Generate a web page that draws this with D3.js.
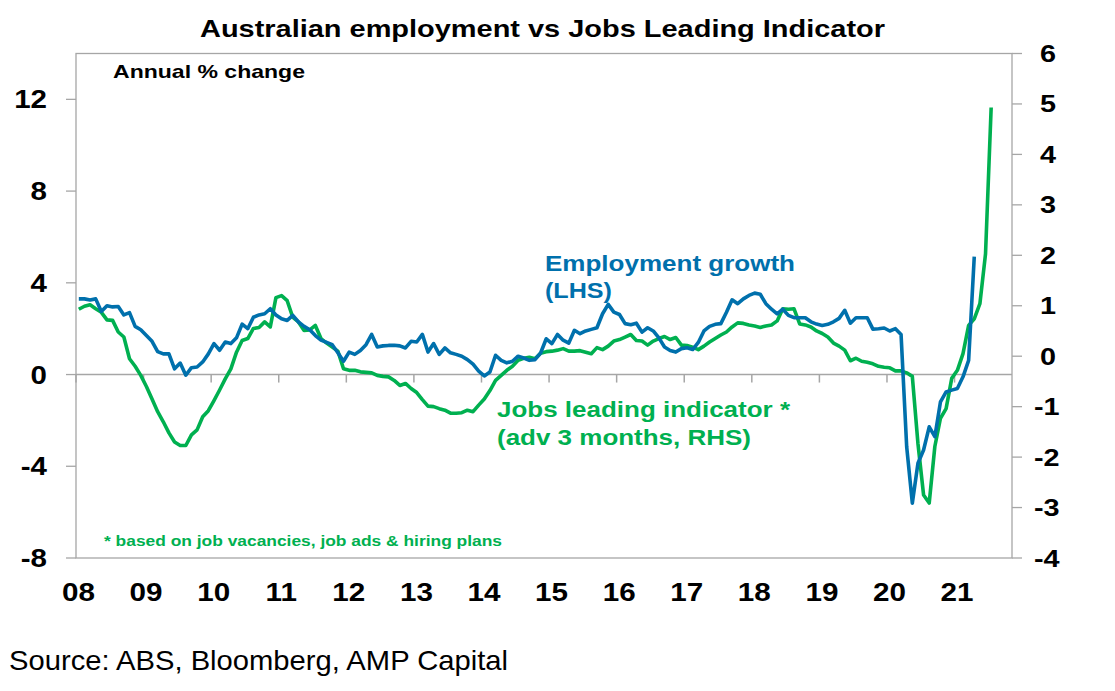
<!DOCTYPE html>
<html>
<head>
<meta charset="utf-8">
<script src="https://cdn.jsdelivr.net/npm/d3@7"></script>
<style>
  body { margin: 0; background: #fff; }
  text { font-family: "Liberation Sans", Arial, sans-serif; }
</style>
</head>
<body>
<svg id="chart" width="1115" height="691"></svg>
<script>
// monthly data, first point Jan 2008
const employment = [
  3.3, 3.3, 3.25, 3.3, 2.75, 3.0, 2.95, 2.97, 2.6, 2.7, 2.1, 1.95,
  1.7, 1.45, 1.0, 0.9, 0.9, 0.25, 0.5, -0.03, 0.3, 0.33, 0.55, 0.9,
  1.35, 1.06, 1.42, 1.35, 1.6, 2.2, 2.0, 2.5, 2.6, 2.65, 2.87, 2.6,
  2.43, 2.36, 2.58, 2.29, 2.1, 1.95, 1.7, 1.5, 1.4, 1.3, 0.95, 0.58,
  0.98, 0.88, 1.05, 1.3, 1.75, 1.2, 1.25, 1.27, 1.28, 1.25, 1.16, 1.45,
  1.42, 1.75, 0.98, 1.35, 0.88, 1.16, 0.95, 0.88, 0.8, 0.65, 0.45, 0.15,
  -0.06, 0.11, 0.84, 0.62, 0.51, 0.58, 0.8, 0.72, 0.62, 0.65, 0.94, 1.56,
  1.35, 1.75, 1.5, 1.37, 1.93, 1.78, 1.9, 1.97, 2.04, 2.65, 3.06, 2.72,
  2.62, 2.22, 2.17, 2.24, 1.85, 2.04, 1.9, 1.6, 1.2, 1.05, 0.98, 1.13,
  1.17, 1.09, 1.4, 1.9, 2.1, 2.19, 2.22, 2.72, 3.26, 3.09, 3.3, 3.45,
  3.55, 3.5, 3.09, 2.85, 2.65, 2.85, 2.58, 2.48, 2.48, 2.48, 2.3, 2.2,
  2.14, 2.19, 2.3, 2.45, 2.8, 2.24, 2.48, 2.48, 2.48, 1.98, 2.0, 2.03,
  1.9, 2.0, 1.75, -3.15, -5.61, -3.87, -3.29, -2.28, -2.71, -1.19, -0.76, -0.68,
  -0.61, -0.1, 0.62, 5.14
];
const jobsIndicator = [
  0.93, 0.99, 1.02, 0.94, 0.87, 0.72, 0.71, 0.48, 0.38, -0.05, -0.2, -0.38,
  -0.6, -0.85, -1.1, -1.3, -1.52, -1.7, -1.77, -1.77, -1.56, -1.46, -1.2, -1.08,
  -0.88, -0.67, -0.45, -0.25, 0.08, 0.31, 0.35, 0.55, 0.57, 0.68, 0.58, 1.16,
  1.2, 1.1, 0.77, 0.68, 0.51, 0.52, 0.61, 0.35, 0.26, 0.18, 0.1, -0.25,
  -0.28, -0.28, -0.31, -0.32, -0.33, -0.38, -0.4, -0.41, -0.48, -0.58, -0.54, -0.64,
  -0.72, -0.86, -0.99, -1.0, -1.04, -1.07, -1.13, -1.13, -1.12, -1.07, -1.1, -0.97,
  -0.85, -0.68, -0.48, -0.38, -0.28, -0.2, -0.08, -0.04, -0.02, -0.05, 0.06, 0.09,
  0.1, 0.12, 0.15, 0.1, 0.1, 0.11, 0.08, 0.05, 0.17, 0.13, 0.2, 0.3,
  0.33, 0.38, 0.43, 0.31, 0.3, 0.22, 0.3, 0.35, 0.39, 0.33, 0.37, 0.22,
  0.21, 0.18, 0.13, 0.2, 0.28, 0.35, 0.42, 0.48, 0.58, 0.66, 0.65, 0.62,
  0.6, 0.57, 0.6, 0.62, 0.7, 0.94, 0.93, 0.94, 0.64, 0.62, 0.58, 0.5,
  0.45, 0.38, 0.26, 0.2, 0.12, -0.09, -0.04, -0.1, -0.12, -0.15, -0.2, -0.22,
  -0.23, -0.29, -0.29, -0.33, -0.4, -1.73, -2.75, -2.91, -1.79, -1.23, -1.04, -0.44,
  -0.28, 0.05, 0.61, 0.74, 1.04, 2.03, 4.93
];
const yearLabels = ["08", "09", "10", "11", "12", "13", "14", "15", "16", "17", "18", "19", "20", "21"];
const leftTicks = [-8, -4, 0, 4, 8, 12];
const rightTicks = [-4, -3, -2, -1, 0, 1, 2, 3, 4, 5, 6];

const blue = "#0070AC";
const green = "#00B050";
const grey = "#a6a6a6";

const svg = d3.select("#chart");
const plotLeft = 76, plotRight = 1012, plotTop = 53.5, plotBottom = 558;

// x in months since Jan 2008, axis runs to about Nov 2021
const x = d3.scaleLinear().domain([0, 166.2]).range([plotLeft, plotRight]);
const yL = d3.scaleLinear().domain([-8, 14]).range([plotBottom, plotTop]);
const yR = d3.scaleLinear().domain([-4, 6]).range([plotBottom, plotTop]);

// the reference text is a bit wider than Liberation Sans
function widen(sel, k) {
  sel.each(function () {
    const w = this.getComputedTextLength();
    d3.select(this).attr("textLength", w * k).attr("lengthAdjust", "spacingAndGlyphs");
  });
}

// frame
svg.append("rect")
  .attr("x", plotLeft).attr("y", plotTop)
  .attr("width", plotRight - plotLeft).attr("height", plotBottom - plotTop)
  .attr("fill", "none").attr("stroke", grey).attr("stroke-width", 1.3);

// left ticks
svg.selectAll(".lt").data(leftTicks).join("line")
  .attr("x1", plotLeft - 10).attr("x2", plotLeft)
  .attr("y1", d => yL(d)).attr("y2", d => yL(d))
  .attr("stroke", grey).attr("stroke-width", 1.3);
svg.selectAll(".ll").data(leftTicks).join("text")
  .attr("x", 47).attr("y", d => yL(d) + 9)
  .attr("text-anchor", "end")
  .attr("font-size", 25).attr("font-weight", "bold")
  .text(d => d)
  .call(widen, 1.18);

// right ticks
svg.selectAll(".rt").data(rightTicks).join("line")
  .attr("x1", plotRight).attr("x2", plotRight + 10)
  .attr("y1", d => yR(d)).attr("y2", d => yR(d))
  .attr("stroke", grey).attr("stroke-width", 1.3);
svg.selectAll(".rl").data(rightTicks).join("text")
  .attr("x", d => d < 0 ? 1034 : 1040).attr("y", d => yR(d) + 8.5)
  .attr("font-size", 24).attr("font-weight", "bold")
  .text(d => d)
  .call(widen, 1.2);

// zero line with year ticks
svg.append("line")
  .attr("x1", plotLeft).attr("x2", plotRight)
  .attr("y1", yL(0)).attr("y2", yL(0))
  .attr("stroke", grey).attr("stroke-width", 1.5);
svg.selectAll(".yt").data(yearLabels).join("line")
  .attr("x1", (d, i) => x(i * 12)).attr("x2", (d, i) => x(i * 12))
  .attr("y1", yL(0)).attr("y2", yL(0) + 8)
  .attr("stroke", grey).attr("stroke-width", 1.5);

// year labels
svg.selectAll(".yl").data(yearLabels).join("text")
  .attr("x", (d, i) => x(i * 12) + 2.5).attr("y", 601)
  .attr("text-anchor", "middle")
  .attr("font-size", 26).attr("font-weight", "bold")
  .text(d => d)
  .call(widen, 1.14);

// lines
const lineL = d3.line().x((d, i) => x(i + 0.5)).y(d => yL(d));
const lineR = d3.line().x((d, i) => x(i + 0.5)).y(d => yR(d));

svg.append("path").datum(jobsIndicator)
  .attr("d", lineR).attr("fill", "none")
  .attr("stroke", green).attr("stroke-width", 3.6).attr("stroke-linejoin", "round");
svg.append("path").datum(employment)
  .attr("d", lineL).attr("fill", "none")
  .attr("stroke", blue).attr("stroke-width", 3.6).attr("stroke-linejoin", "round");

// texts, widths fitted to the reference
function label(txt, px, py, size, width, opts) {
  const t = svg.append("text").attr("x", px).attr("y", py)
    .attr("font-size", size)
    .attr("textLength", width).attr("lengthAdjust", "spacingAndGlyphs")
    .text(txt);
  if (opts.bold !== false) t.attr("font-weight", "bold");
  if (opts.fill) t.attr("fill", opts.fill);
  return t;
}

label("Australian employment vs Jobs Leading Indicator", 200, 37, 24, 685, {});
label("Annual % change", 113, 78, 19, 192, {});
label("Employment growth", 545, 271, 22.5, 250, { fill: blue });
label("(LHS)", 545, 298, 22.5, 67, { fill: blue });
label("Jobs leading indicator *", 497, 417, 22.5, 293, { fill: green });
label("(adv 3 months, RHS)", 497, 445, 22.5, 254, { fill: green });
label("* based on job vacancies, job ads & hiring plans", 104, 546, 15, 398, { fill: green });
label("Source: ABS, Bloomberg, AMP Capital", 9, 670, 28, 499, { bold: false });
</script>
</body>
</html>
